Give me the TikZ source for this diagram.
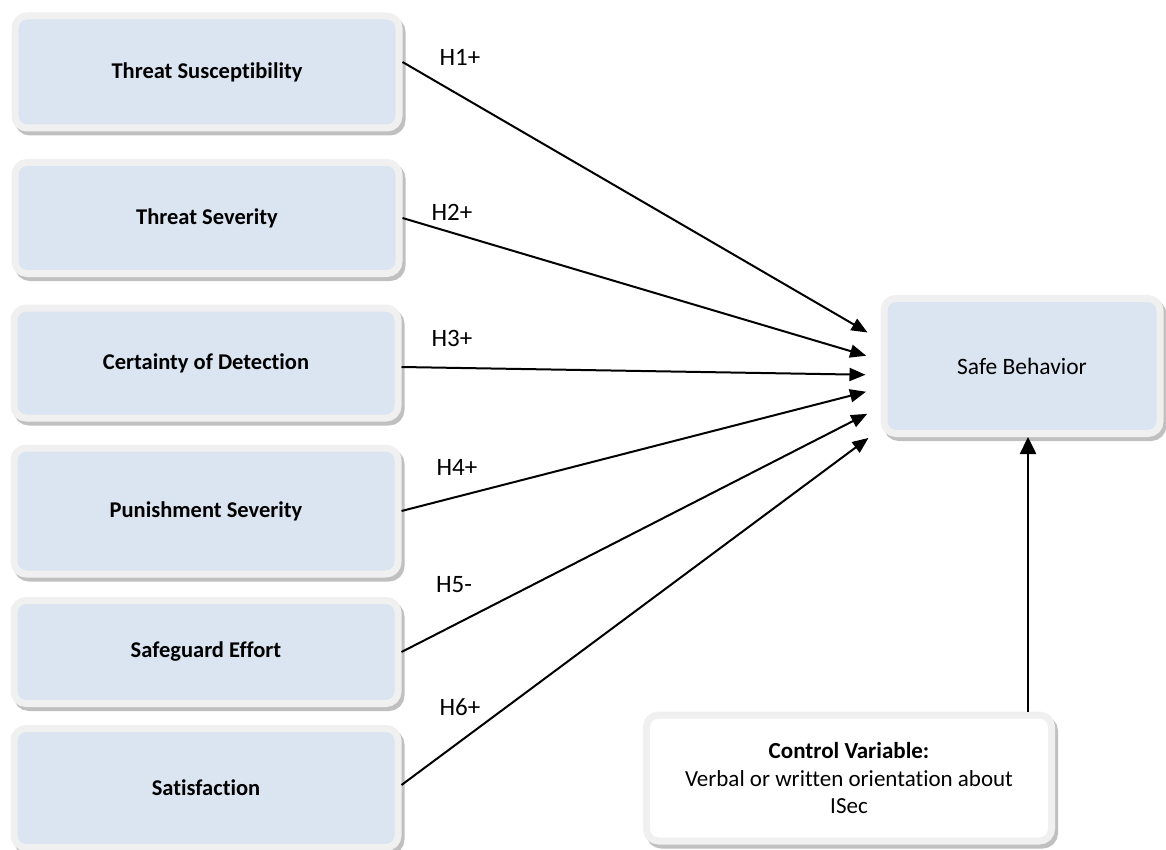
\documentclass[tikz,border=0pt]{standalone}
\usepackage{fontspec}
\setmainfont{Carlito}[Ligatures=NoCommon]
\usepackage{tikz}
\usetikzlibrary{
  arrows.meta,
  positioning,
  shadows
}
\definecolor{boxblue}{RGB}{219,229,241}
\definecolor{rimgray}{RGB}{240,240,240}
\definecolor{shadegray}{RGB}{192,192,192}
\tikzset{
  factorbox/.style={draw=rimgray, fill=boxblue, line width=7pt,
    rounded corners=12pt, inner sep=0pt,
    general shadow={draw=shadegray, fill=shadegray, line width=7pt,
      shadow xshift=3pt, shadow yshift=-4pt},
    minimum width=384pt, align=center,
    font=\fontsize{22.5}{27}\selectfont\bfseries},
  outcomebox/.style={factorbox, minimum width=276pt,
    font=\fontsize{23.5}{28}\selectfont},
  controlbox/.style={factorbox, fill=white, minimum width=405pt,
    font=\fontsize{23}{27.5}\selectfont},
  hyplabel/.style={font=\fontsize{25}{30}\selectfont, inner sep=0pt},
  arr/.style={-{Triangle[length=16pt, width=13pt]}, line width=2pt},
  varr/.style={-{Triangle[length=17pt, width=16pt]}, line width=2.5pt},
}

\begin{document}
\begin{tikzpicture}[x=1pt, y=-1pt]
  \useasboundingbox (0,0) rectangle (1166,850);

  % Predictors
  \node[factorbox, minimum height=112pt] (susc) at (207,72) {Threat Susceptibility};
  \node[factorbox, minimum height=111pt] (sev) at (207,218) {Threat Severity};
  \node[factorbox, minimum height=110pt] (cert) at (206,363) {Certainty of Detection};
  \node[factorbox, minimum height=126pt] (pun) at (206,511) {Punishment Severity};
  \node[factorbox, minimum height=103pt] (guard) at (206,652) {Safeguard Effort};
  \node[factorbox, minimum height=119pt] (satis) at (206,788) {Satisfaction};

  % Outcome and control variable
  \node[outcomebox, minimum height=135pt] (behav) at (1022,366) {Safe Behavior};
  \node[controlbox, minimum height=126pt] (ctrl) at (849,778)
    {\textbf{Control Variable:}\\Verbal or written orientation about\\ISec};

  % Hypotheses
  \draw[arr, shorten >=15pt] ([yshift=10pt]susc.east) -- ([yshift=26pt]behav.west);
  \draw[arr, shorten >=15pt] (sev.east) -- ([yshift=6pt]behav.west);
  \draw[arr, shorten >=15pt] ([yshift=-4pt]cert.east) -- ([yshift=-9pt]behav.west);
  \draw[arr, shorten >=15pt] (pun.east) -- ([yshift=-22pt]behav.west);
  \draw[arr, shorten >=15pt] (guard.east) -- ([yshift=-41pt]behav.west);
  \draw[arr, shorten >=15pt] ([yshift=3pt]satis.east) -- ([yshift=-63pt]behav.west);

  \node[hyplabel] (h1) at (460,57) {H1+};
  \node[hyplabel] (h2) at (452,212) {H2+};
  \node[hyplabel] (h3) at (452,338) {H3+};
  \node[hyplabel] (h4) at (457,467) {H4+};
  \node[hyplabel] (h5) at (454,585) {H5-};
  \node[hyplabel] (h6) at (460,707) {H6+};

  \draw[varr] ([xshift=179pt]ctrl.north) -- ([xshift=179pt]ctrl.north |- behav.south);
\end{tikzpicture}
\end{document}
